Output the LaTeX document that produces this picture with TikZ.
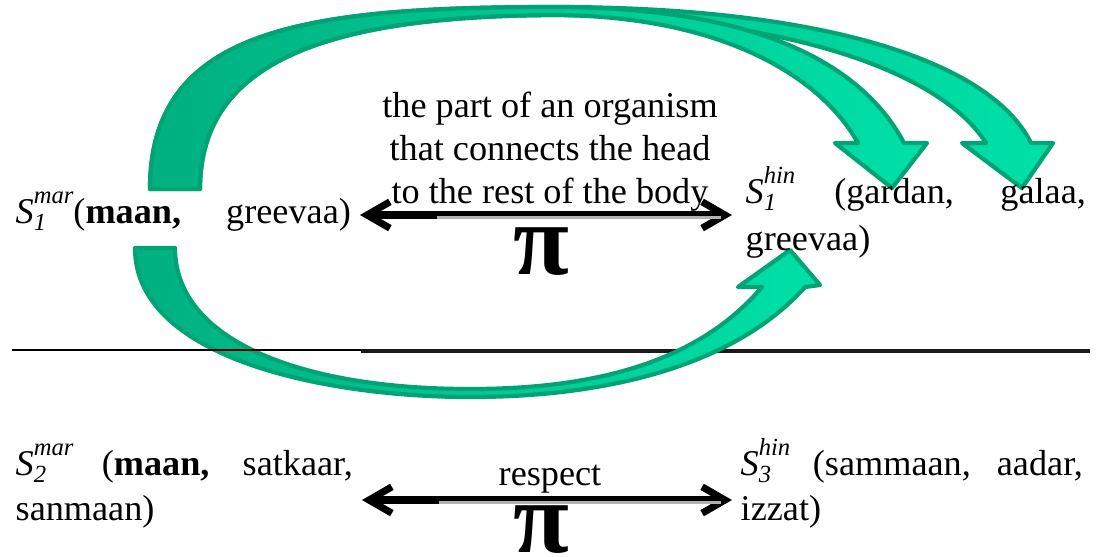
\documentclass[tikz,border=0pt]{standalone}
\usepackage{fontspec}
\setmainfont{Liberation Serif}
\usetikzlibrary{arrows.meta,positioning}
\definecolor{grleft}{RGB}{0,176,128}
\definecolor{grright}{RGB}{0,224,168}
\definecolor{grdark}{RGB}{0,163,116}
\newcommand{\synset}[2]{\textit{S}\rlap{\raisebox{-0.45ex}{\scriptsize\itshape #1}}\raisebox{1.2ex}{\scriptsize\itshape #2}}

\begin{document}
\begin{tikzpicture}[x=0.01cm,y=-0.01cm,
  txt/.style={inner sep=0pt,font=\fontsize{10.3}{12.3}\selectfont},
  bigpi/.style={inner sep=0pt,font=\fontsize{29}{29}\selectfont\bfseries},
  dbl/.style={line width=2.3pt,{Straight Barb[length=6.5pt,width=7.5pt,line width=2pt]}-{Straight Barb[length=6.5pt,width=7.5pt,line width=2pt]}},
  shine/.style={draw=gray!60,line width=0.9pt,shorten <=22pt,shorten >=3pt},
  blockarrow/.style={draw=grdark,line width=1.2pt,line join=round,left color=grleft,right color=grright}]
\useasboundingbox (0,0) rectangle (1099,556);

% separator
\draw[line width=1pt,black!90] (361,351) -- (1090,351);

% curved block arrows
\path[blockarrow] (150,189) .. controls (150,30) and (300,7) .. (555,7)
  .. controls (820,7) and (990,60) .. (1031,143) -- (1053,143) -- (1022,188) -- (962,143) -- (986,143)
  .. controls (940,70) and (780,16) .. (555,15)
  .. controls (330,16) and (200,60) .. (200,189) -- cycle;
\path[blockarrow] (150,189) .. controls (150,30) and (300,7) .. (555,7)
  .. controls (750,7) and (860,60) .. (904,143) -- (927,143) -- (892,188) -- (835,143) -- (858,143)
  .. controls (820,75) and (720,16) .. (555,15)
  .. controls (330,16) and (200,60) .. (200,189) -- cycle;
\path[blockarrow] (135,248) .. controls (135,360) and (330,397) .. (470,397)
  .. controls (620,397) and (740,360) .. (805,287) -- (820,285) -- (790,250) -- (738,287) -- (762,287)
  .. controls (700,360) and (600,389) .. (470,389)
  .. controls (300,389) and (175,340) .. (175,248) -- cycle;

\draw[line width=0.6pt] (12,350) -- (361,350);

% upper pair
\node[txt,anchor=base west] (s1mar) at (15,223) {\makebox[3.35cm][s]{\synset{1}{mar}(\textbf{maan,} greevaa)}};
\node[txt,anchor=base west] (s1hin) at (745,203) {\makebox[3.40cm][s]{\synset{1}{hin} (gardan, galaa,}};
\node[txt,anchor=base west] (s1hinb) at (745,250) {greevaa)};
\node[txt,align=center,anchor=north] (gloss) at (550,91) {the part of an organism\\that connects the head\\to the rest of the body};
\node[bigpi] (pi1) at (541,252) {π};
\coordinate (a1l) at (360,215);
\coordinate (a1r) at (732,215);
\draw[dbl] (a1l) -- (a1r);
\draw[shine] ([yshift=-0.7pt]a1l) -- ([yshift=-0.7pt]a1r);

% lower pair
\node[txt,anchor=base west] (s2mar) at (15,475) {\makebox[3.37cm][s]{\synset{2}{mar} (\textbf{maan,} satkaar,}};
\node[txt,anchor=base west] (s2marb) at (15,520) {sanmaan)};
\node[txt,anchor=base west] (s3hin) at (740,475) {\makebox[3.42cm][s]{\synset{3}{hin} (sammaan, aadar,}};
\node[txt,anchor=base west] (s3hinb) at (740,520) {izzat)};
\node[txt,anchor=base] (resp) at (550,485) {respect};
\node[bigpi] (pi2) at (541,530) {π};
\coordinate (a2l) at (362,500);
\coordinate (a2r) at (732,500);
\draw[dbl] (a2l) -- (a2r);
\draw[shine] ([yshift=-0.7pt]a2l) -- ([yshift=-0.7pt]a2r);
\end{tikzpicture}
\end{document}
